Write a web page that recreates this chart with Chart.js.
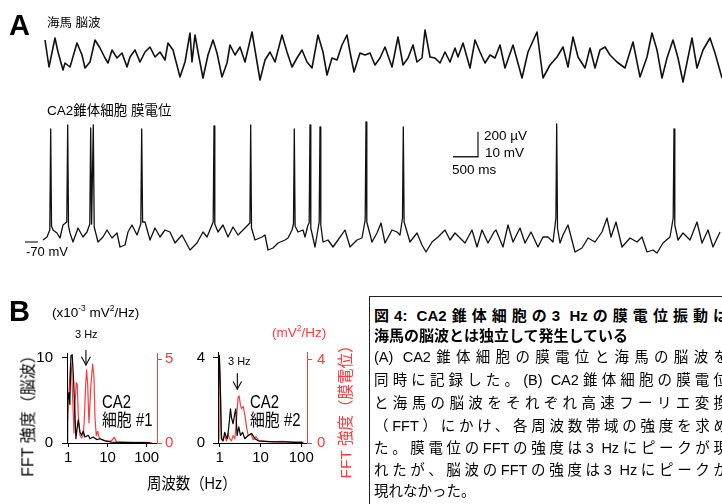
<!DOCTYPE html>
<html><head><meta charset="utf-8">
<script src="https://cdn.jsdelivr.net/npm/chart.js@4"></script>
<style>
html,body{margin:0;padding:0;width:722px;height:504px;overflow:hidden;background:#fff;}
body{position:relative;font-family:"Liberation Sans","Noto Sans CJK JP",sans-serif;color:#000;}
canvas{position:absolute;}
.t{position:absolute;white-space:nowrap;}
.ln{position:absolute;white-space:nowrap;}
sup{font-size:0.62em;position:relative;top:-0.15em;vertical-align:top;line-height:1;}
</style></head><body>
<canvas id="traces" width="702" height="260" style="left:20px;top:0px"></canvas>
<canvas id="fft1" width="170" height="130" style="left:20px;top:335px"></canvas>
<canvas id="fft2" width="150" height="130" style="left:185px;top:335px"></canvas>
<div id="box" style="position:absolute;left:369px;top:296px;width:420px;height:260px;border:1.5px solid #222;box-sizing:border-box"></div>
<script>
// ---------- Panel A: hippocampal EEG (µV) ----------
const eegTimeMs = [0,80,200,260,360,400,500,640,740,800,
900,1000,1100,1200,1260,1340,1440,1540,1640,1700,
1800,1900,2000,2100,2200,2300,2400,2460,2560,2700,
2800,2900,2940,3000,3060,3160,3260,3360,3440,3540,
3640,3700,3800,3900,4000,4140,4200,4300,4400,4500,
4600,4740,4840,4940,5040,5140,5240,5340,5460,5560,
5640,5740,5840,5940,6040,6100,6180,6300,6400,6500,
6600,6700,6800,6940,7060,7160,7260,7360,7440,7540,
7600,7700,7800,7900,8000,8100,8200,8260,8360,8500,
8600,8700,8800,8900,9000,9100,9200,9360,9540,9660,
9840,9960,10100,10240,10360,10460,10560,10660,10800,10900,
11000,11100,11200,11300,11440,11600,11760,11900,12040,12140,
12240,12340,12440,12560,12660,12760,12940,13040,13160,13300,
13400,13540];
const eegMicroV = [120,-96,136,24,-120,-64,-96,96,0,-104,
-56,120,56,-24,-64,40,-24,16,-96,-16,
40,-56,24,64,-16,24,-40,96,40,-176,
-56,176,-56,160,24,-184,0,120,16,-176,
-64,80,0,64,-56,184,40,-200,-40,24,
-56,160,24,-96,-24,40,-56,-104,160,24,
-160,-24,-40,80,160,24,-136,16,0,16,
-80,-24,64,-96,144,-80,-24,80,-56,-24,
200,-16,-24,-64,24,-56,56,-16,96,-104,
120,24,-64,0,-24,80,-104,80,-184,24,
184,-184,-80,-16,64,-96,144,-16,-104,56,
-104,40,64,0,-56,-104,104,-176,-16,176,
40,-184,-24,120,-24,-216,136,-104,40,136,
16,-184];

// ---------- Panel A: CA2 pyramidal cell membrane potential (mV) ----------
const vmTimeMs = [-40,40,96,114,130,160,240,300,360,436,
454,470,500,560,660,760,840,896,914,932,
966,984,1060,1160,1240,1340,1440,1500,1600,1660,
1740,1840,1916,1934,1952,2000,2100,2200,2300,2400,
2500,2600,2740,2900,3040,3160,3240,3364,3380,3396,
3460,3560,3660,3760,3860,4000,4098,4114,4130,4200,
4340,4400,4460,4560,4660,4800,4860,4940,4970,4986,
5002,5060,5160,5200,5260,5284,5300,5316,5400,5484,
5500,5516,5560,5660,5760,5860,6000,6100,6240,6340,
6404,6420,6436,6540,6640,6720,6800,6940,7040,7100,
7150,7166,7182,7300,7440,7540,7620,7740,7860,8000,
8100,8200,8400,8540,8640,8740,8860,8980,9020,9160,
9260,9360,9500,9600,9720,9860,9960,10060,10160,10218,
10234,10250,10300,10360,10460,10600,10740,10860,11000,11140,
11240,11320,11420,11540,11700,11840,11940,12040,12160,12240,
12360,12500,12564,12580,12596,12660,12760,12900,13040,13140,
13260,13360,13500];
const vmMilliV = [-69.2,-68.0,-65.2,-24.8,-63.6,-65.2,-66.4,-68.4,-63.2,-62.0,
-23.2,-63.6,-66.4,-70.0,-64.4,-68.0,-66.0,-62.8,-24.4,-62.8,
-23.2,-64.0,-70.0,-68.0,-65.2,-68.4,-66.4,-72.0,-71.2,-66.0,
-63.2,-67.2,-62.8,-24.8,-62.0,-62.0,-69.2,-64.4,-68.0,-65.2,
-66.0,-70.4,-67.2,-73.2,-70.4,-66.0,-68.0,-62.0,-23.6,-62.8,
-66.0,-63.2,-68.0,-64.0,-67.2,-64.4,-62.4,-23.2,-64.4,-69.2,
-68.0,-67.2,-73.2,-72.4,-70.4,-69.2,-68.4,-65.2,-62.8,-24.8,
-63.6,-66.0,-65.2,-68.0,-63.2,-62.4,-23.2,-64.4,-72.0,-62.0,
-24.0,-63.2,-70.0,-69.2,-72.0,-69.2,-65.2,-72.0,-69.2,-68.4,
-61.2,-22.0,-62.0,-70.0,-66.4,-62.4,-70.4,-65.2,-66.0,-67.2,
-60.4,-24.0,-62.0,-70.0,-66.4,-71.2,-74.0,-70.0,-68.0,-65.2,
-69.2,-66.4,-70.4,-65.2,-72.0,-65.2,-70.4,-66.0,-65.2,-72.0,
-63.2,-70.0,-64.4,-70.4,-66.0,-72.0,-68.0,-68.0,-70.0,-60.4,
-22.8,-64.4,-70.4,-67.2,-63.2,-74.0,-72.4,-68.4,-70.0,-66.0,
-60.4,-68.0,-62.0,-72.0,-68.4,-70.0,-68.0,-74.0,-73.2,-74.4,
-70.4,-68.0,-60.4,-24.8,-63.2,-69.2,-66.4,-69.2,-62.0,-70.4,
-65.2,-72.0,-66.0];

// -70 mV reference mark and scale bar (500 ms / 10 mV)
const restMarkTimeMs = [-400, -140];
const restMarkMilliV = [-70, -70];
const scaleBarTimeMs = [8160, 8660, 8660];
const scaleBarMilliV = [-35.9, -35.9, -25.9];

// ---------- Panel B: FFT power ----------
const fftTicksHz = [1, 10, 100];
// cell #1
const cell1EegHz = [0.93,0.965,1.04,1.10,1.17,1.26,1.37,1.48,1.57,1.67,1.80,1.99,2.20,2.41,2.67,3.24,3.58,4.34,5.30,6.44,8.63,12.8,20.8,37.5,67.4,121];
const cell1EegPower = [0.2,4.9,5.9,4.5,10.2,10.35,7.3,3.4,0.5,1.6,2.7,1.3,0.9,1.4,0.7,0.9,0.5,0.7,0.4,0.5,0.25,0.1,0.08,0.05,0.04,0.03];
const cell1VmHz = [0.93,1.0,1.09,1.15,1.22,1.32,1.40,1.48,1.60,1.70,1.80,1.99,2.20,2.41,2.56,2.78,2.94,3.13,3.37,3.79,4.19,4.53,4.80,5.18,5.62,6.07,7.11,8.63,11.6,13.4,14.9,17.2,27.9,50.3,90.5,137];
const cell1VmPower = [0.45,2.2,4.0,4.8,4.3,2.2,0.6,2.2,3.6,3.5,1.7,0.45,0.3,0.45,1.3,3.5,4.35,3.5,1.2,3.5,4.7,3.9,1.5,0.45,0.7,0.35,0.2,0.15,0.1,0.2,0.35,0.05,0.05,0.04,0.04,0.03];
const cell1EegTicks = [0, 10];
const cell1VmTicks = [0, 5];
const cell1ArrowHz = [2.83, 2.83];
const cell1ArrowPower = [10.86, 9.14];
const cell1ArrowHeadHz = [2.17, 2.83, 3.68];
const cell1ArrowHeadPower = [10.11, 9.14, 10.11];
// cell #2
const cell2EegHz = [0.91,0.945,0.983,1.04,1.10,1.21,1.33,1.41,1.55,1.67,1.84,1.94,2.13,2.35,2.48,2.67,2.94,3.24,3.63,4.14,5.0,6.06,7.31,8.83,12.9,22.8,40.3,71.1,112];
const cell2EegPower = [0.1,4.05,4.1,2.5,0.2,0.1,0.5,0.35,0.2,0.75,1.6,1.2,0.9,1.4,1.6,0.35,0.75,0.35,0.5,0.2,0.35,0.45,0.2,0.1,0.08,0.05,0.05,0.03,0.03];
const cell2VmHz = [0.91,0.945,0.983,1.04,1.10,1.17,1.33,1.46,1.60,1.77,1.94,2.13,2.35,2.58,2.83,3.0,3.24,3.43,3.76,4.14,4.56,5.0,5.73,6.64,7.74,9.18,12.9,18.9,33.4,58.9,104];
const cell2VmPower = [0.2,3.8,4.1,2.8,0.4,0.1,0.35,0.1,0.45,0.2,0.1,0.35,0.2,1.1,2.2,2.25,1.8,1.65,1.75,1.35,0.75,0.35,0.45,0.15,0.3,0.1,0.08,0.06,0.08,0.04,0.04];
const cell2EegTicks = [0, 4];
const cell2VmTicks = [0, 4];
const cell2ArrowHz = [2.71, 2.71];
const cell2ArrowPower = [3.25, 2.52];
const cell2ArrowHeadHz = [2.13, 2.71, 3.43];
const cell2ArrowHeadPower = [2.88, 2.52, 2.88];

// ---------- helpers ----------
const RED = '#ff3b3b';
const FONT = '"Liberation Sans", "Noto Sans CJK JP", sans-serif';
const pts = (xs, ys) => xs.map((x, i) => ({x: x, y: ys[i]}));
const lineDs = (data, axis, color, width, extra) => Object.assign({
  data: data, yAxisID: axis, borderColor: color, borderWidth: width,
  pointRadius: 0, tension: 0, fill: false, borderJoinStyle: 'round'
}, extra || {});

// ---------- Panel A chart ----------
new Chart(document.getElementById('traces'), {
  type: 'line',
  data: { datasets: [
    lineDs(pts(eegTimeMs, eegMicroV), 'yE', '#111', 1.6),
    lineDs(pts(vmTimeMs, vmMilliV), 'yV', '#111', 1.3),
    lineDs(pts(restMarkTimeMs, restMarkMilliV), 'yV', '#222', 1.2),
    lineDs(pts(scaleBarTimeMs, scaleBarMilliV), 'yV', '#222', 1.3, {borderJoinStyle: 'miter'})
  ]},
  options: {
    responsive: false, animation: false, devicePixelRatio: 1, events: [],
    layout: { padding: 0 },
    plugins: { legend: { display: false }, tooltip: { enabled: false } },
    scales: {
      x: { type: 'linear', display: false, min: -500, max: 13540 },
      yE: { type: 'linear', display: false, min: -1640, max: 440 },
      yV: { type: 'linear', display: false, min: -77.2, max: 26.8 }
    }
  }
});

// ---------- Panel B charts ----------
function fftChart(id, cfg) {
  const tickFont = { family: FONT, size: 15 };
  const fixTicks = vals => s => { s.ticks = vals.map(v => ({ value: v })); };
  new Chart(document.getElementById(id), {
    type: 'line',
    data: { datasets: [
      lineDs(pts(cfg.eegHz, cfg.eegPow), 'y', '#000', 1.2),
      lineDs(pts(cfg.vmHz, cfg.vmPow), 'y2', RED, 1.2),
      lineDs(pts(cfg.arrHz, cfg.arrPow), 'y', '#000', 1.1, { clip: false }),
      lineDs(pts(cfg.headHz, cfg.headPow), 'y', '#000', 1.1, { clip: false, borderJoinStyle: 'miter' })
    ]},
    options: {
      responsive: false, animation: false, devicePixelRatio: 1, events: [],
      layout: { padding: { top: 10, left: 0, right: 0, bottom: 0 } },
      plugins: { legend: { display: false }, tooltip: { enabled: false } },
      scales: {
        x: {
          type: 'logarithmic', min: cfg.xMin, max: cfg.xMax,
          afterBuildTicks: fixTicks(fftTicksHz),
          afterFit: s => { s.height = 22; },
          ticks: { callback: v => String(v), font: tickFont, color: '#000', padding: 2, maxRotation: 0, autoSkip: false },
          grid: { display: true, drawOnChartArea: false, drawTicks: true, tickLength: 4, color: '#000' },
          border: { display: true, color: '#000', width: 1 }
        },
        y: {
          type: 'linear', position: 'left', min: 0, max: cfg.yMax,
          afterBuildTicks: fixTicks(cfg.yTicks),
          afterFit: s => { s.width = cfg.leftW; },
          ticks: { font: tickFont, color: '#000', padding: cfg.leftPad },
          grid: { display: true, drawOnChartArea: false, drawTicks: true, tickLength: 5, color: '#000' },
          border: { display: true, color: '#000', width: 1 }
        },
        y2: {
          type: 'linear', position: 'right', min: 0, max: cfg.y2Max,
          afterBuildTicks: fixTicks(cfg.y2Ticks),
          afterFit: s => { s.width = cfg.rightW; },
          ticks: { font: tickFont, color: RED, padding: cfg.rightPad },
          grid: { display: true, drawOnChartArea: false, drawTicks: true, tickLength: 5, color: RED },
          border: { display: true, color: RED, width: 1 }
        }
      }
    }
  });
}
fftChart('fft1', {
  eegHz: cell1EegHz, eegPow: cell1EegPower, vmHz: cell1VmHz, vmPow: cell1VmPower,
  arrHz: cell1ArrowHz, arrPow: cell1ArrowPower, headHz: cell1ArrowHeadHz, headPow: cell1ArrowHeadPower,
  xMin: 0.93, xMax: 183, yMax: 10.54, y2Max: 5.36, yTicks: cell1EegTicks, y2Ticks: cell1VmTicks,
  leftW: 47, rightW: 33, leftPad: 9, rightPad: 3
});
fftChart('fft2', {
  eegHz: cell2EegHz, eegPow: cell2EegPower, vmHz: cell2VmHz, vmPow: cell2VmPower,
  arrHz: cell2ArrowHz, arrPow: cell2ArrowPower, headHz: cell2ArrowHeadHz, headPow: cell2ArrowHeadPower,
  xMin: 0.91, xMax: 138, yMax: 4.26, y2Max: 4.36, yTicks: cell2EegTicks, y2Ticks: cell2VmTicks,
  leftW: 33, rightW: 28, leftPad: 8, rightPad: 5
});

// ---------- text ----------
function label(html, left, cy, size, o) {
  o = o || {};
  const d = document.createElement('div');
  d.className = 't';
  d.innerHTML = html;
  const lh = size * 1.2;
  d.style.fontSize = size + 'px';
  d.style.lineHeight = lh + 'px';
  d.style.left = left + 'px';
  d.style.top = (cy - lh / 2) + 'px';
  if (o.bold) d.style.fontWeight = 'bold';
  if (o.color) d.style.color = o.color;
  if (o.sx) { d.style.transformOrigin = '0 50%'; d.style.transform = 'scaleX(' + o.sx + ')'; }
  document.body.appendChild(d);
  return d;
}
function vlabel(html, cx, cy, size, color) {
  const d = document.createElement('div');
  d.className = 't';
  d.innerHTML = html;
  d.style.fontSize = size + 'px';
  d.style.lineHeight = (size * 1.2) + 'px';
  d.style.left = cx + 'px';
  d.style.top = cy + 'px';
  d.style.color = color;
  d.style.transform = 'translate(-50%,-50%) rotate(-90deg)';
  document.body.appendChild(d);
}
label('A', 9, 25, 29, { bold: true });
label('海馬 脳波', 47, 23, 12.5);
label('CA2錐体細胞 膜電位', 47, 111, 13.5);
label('200 µV', 484, 136, 13.5);
label('10 mV', 485, 153, 13.5);
label('500 ms', 452, 170, 13.5);
label('-70 mV', 26, 252, 13);
label('B', 9, 311, 29, { bold: true });
label('(x10<sup>-3</sup> mV<sup>2</sup>/Hz)', 52, 313, 13.5);
label('(mV<sup>2</sup>/Hz)', 272, 333, 13.5, { color: RED });
label('3 Hz', 75, 335, 11);
label('3 Hz', 228, 362, 11);
label('CA2', 102, 402, 17.5, { sx: 0.85 });
label('細胞 #1', 102, 420, 17.5, { sx: 0.85 });
label('CA2', 250, 402, 17.5, { sx: 0.85 });
label('細胞 #2', 250, 420, 17.5, { sx: 0.85 });
label('周波数（Hz）', 147, 484, 16, { sx: 0.9 });
vlabel('FFT 強度（脳波）', 28, 412, 16, '#000');
vlabel('FFT 強度（膜電位）', 346, 408, 15.5, RED);

const boxLines = [
  { text: '図4: CA2錐体細胞の3 Hzの膜電位振動は', cy: 316, bold: true, just: true },
  { text: '海馬の脳波とは独立して発生している', cy: 336, bold: true, just: false },
  { text: '(A) CA2錐体細胞の膜電位と海馬の脳波を', cy: 357, just: true },
  { text: '同時に記録した。(B) CA2錐体細胞の膜電位', cy: 380, just: true },
  { text: 'と海馬の脳波をそれぞれ高速フーリエ変換', cy: 403, just: true },
  { text: '（FFT）にかけ、各周波数帯域の強度を求め', cy: 426, just: true },
  { text: 'た。膜電位のFFTの強度は3 Hzにピークが現', cy: 448, just: true },
  { text: 'れたが、脳波のFFTの強度は3 Hzにピークが', cy: 470, just: true },
  { text: '現れなかった。', cy: 491, just: false }
];
boxLines.forEach(l => {
  const d = document.createElement('div');
  d.className = 'ln';
  d.textContent = l.text;
  const fs = l.bold ? 15 : 14.5;
  const lh = 20;
  d.style.fontSize = fs + 'px';
  d.style.lineHeight = lh + 'px';
  d.style.left = '374px';
  d.style.top = (l.cy - lh / 2) + 'px';
  d.style.width = '354px';
  if (l.bold) d.style.fontWeight = 'bold';
  if (l.just) { d.style.textAlign = 'justify'; d.style.textAlignLast = 'justify'; d.style.whiteSpace = 'normal'; }
  document.body.appendChild(d);
});
</script>
</body></html>
